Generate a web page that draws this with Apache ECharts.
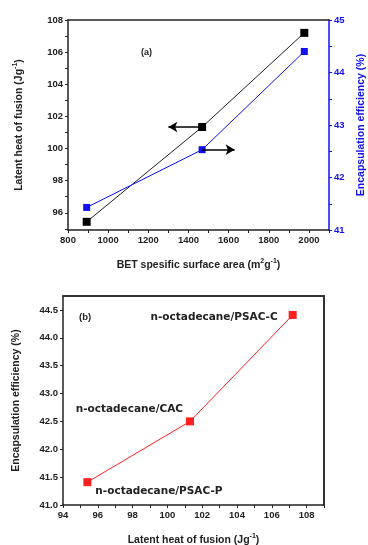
<!DOCTYPE html>
<html>
<head>
<meta charset="utf-8">
<script src="https://cdn.jsdelivr.net/npm/echarts@6/dist/echarts.min.js"></script>
<style>
  html, body {margin: 0; padding: 0; background: #fff;}
  #chart {width: 368px; height: 545px;}
</style>
</head>
<body>
<div id="chart"></div>
<script>
// (a) BET surface area vs latent heat / encapsulation efficiency
const bet = [893, 1468, 1977]
const latentHeat = [95.44, 101.34, 107.2]
const encapA = [41.43, 42.53, 44.40]
const arrowEnds = [1300, 1630]

// (b) latent heat vs encapsulation efficiency
const heatB = [95.4, 101.3, 107.2]
const encapB = [41.41, 42.50, 44.41]
const sampleNames = ['n-octadecane/PSAC-P', 'n-octadecane/CAC', 'n-octadecane/PSAC-C']

const betLabels = [800, 1000, 1200, 1400, 1600, 1800, 2000]
const betTicks = [800, 900, 1000, 1100, 1200, 1300, 1400, 1500, 1600, 1700, 1800, 1900, 2000, 2100]
const heatLabels = [96, 98, 100, 102, 104, 106, 108]
const heatTicks = [95, 96, 97, 98, 99, 100, 101, 102, 103, 104, 105, 106, 107, 108]
const encLabels = [41, 42, 43, 44, 45]
const encTicks = [41, 41.5, 42, 42.5, 43, 43.5, 44, 44.5, 45]
const heatBLabels = [94, 96, 98, 100, 102, 104, 106, 108]
const heatBTicks = [94, 95, 96, 97, 98, 99, 100, 101, 102, 103, 104, 105, 106, 107, 108, 109]
const encBLabels = [41.0, 41.5, 42.0, 42.5, 43.0, 43.5, 44.0, 44.5]

const FONT = '"Liberation Sans", Arial, sans-serif'
const dark = '#222'
const blue = '#1010f0'
const red = '#ff2020'

const tickLabel = (color) => ({
  color: color, fontSize: 9.5, fontWeight: 'bold', fontFamily: FONT, margin: 5
})
const axisName = (color) => ({
  color: color, fontSize: 10.5, fontWeight: 'bold', fontFamily: FONT,
  rich: {sup: {fontSize: 7, fontWeight: 'bold', fontFamily: FONT, color: color, padding: [0, 0, 7, 0]}}
})
const frameAxis = (grid, pos) => ({
  type: 'value', gridIndex: grid, position: pos, min: 0, max: 1,
  axisLine: {show: true, lineStyle: {color: dark, width: 1.5}},
  axisTick: {show: false}, axisLabel: {show: false}, splitLine: {show: false}
})

const chart = echarts.init(document.getElementById('chart'))

const labelPos = [
  {position: 'right', distance: 4, offset: [0, 9]},
  {position: 'left', distance: 3, offset: [0, -12]},
  {position: 'left', distance: 11, offset: [0, 2]}
]

chart.setOption({
  animation: false,
  backgroundColor: '#fff',
  grid: [
    {left: 68, right: 39, top: 20, bottom: 315, outerBoundsMode: 'none', containLabel: false},
    {left: 63, right: 44, top: 296, bottom: 40, outerBoundsMode: 'none', containLabel: false}
  ],
  graphic: [
    {type: 'text', left: 141, top: 48, style: {text: '(a)', font: 'bold 9px ' + FONT, fill: dark}},
    {type: 'text', left: 79, top: 312, style: {text: '(b)', font: 'bold 9.5px ' + FONT, fill: dark}}
  ],
  xAxis: [
    {
      type: 'value', gridIndex: 0, min: 800, max: 2100,
      name: 'BET spesific surface area (m{sup|2}g{sup|-1})',
      nameLocation: 'middle', nameGap: 28, nameTextStyle: axisName(dark),
      axisLine: {lineStyle: {color: dark, width: 1.5}},
      axisTick: {customValues: betTicks, length: 3, lineStyle: {color: dark}},
      axisLabel: Object.assign({customValues: betLabels, formatter: v => String(v)}, tickLabel(dark)),
      splitLine: {show: false}
    },
    frameAxis(0, 'top'),
    {
      type: 'value', gridIndex: 1, min: 94, max: 109,
      name: 'Latent heat of fusion (Jg{sup|-1})',
      nameLocation: 'middle', nameGap: 28, nameTextStyle: axisName(dark),
      axisLine: {lineStyle: {color: dark, width: 1.5}},
      axisTick: {customValues: heatBTicks, length: 3, lineStyle: {color: dark}},
      axisLabel: Object.assign({customValues: heatBLabels}, tickLabel(dark)),
      splitLine: {show: false}
    },
    Object.assign(frameAxis(1, 'top'), {axisLine: {show: true, lineStyle: {color: '#333', width: 2}}})
  ],
  yAxis: [
    {
      type: 'value', gridIndex: 0, min: 94.93, max: 108, position: 'left',
      name: 'Latent heat of fusion (Jg{sup|-1})',
      nameLocation: 'middle', nameGap: 42, nameRotate: 90, nameTextStyle: axisName(dark),
      axisLine: {show: true, lineStyle: {color: dark, width: 1.5}},
      axisTick: {show: true, customValues: heatTicks, length: 3, lineStyle: {color: dark}},
      axisLabel: Object.assign({customValues: heatLabels}, tickLabel(dark)),
      splitLine: {show: false}
    },
    {
      type: 'value', gridIndex: 0, min: 41, max: 45, position: 'right',
      name: 'Encapsulation efficiency (%)',
      nameLocation: 'middle', nameGap: 27, nameRotate: 90, nameTextStyle: axisName(blue),
      axisLine: {show: true, lineStyle: {color: blue, width: 1.5}},
      axisTick: {show: true, customValues: encTicks, length: 3, lineStyle: {color: blue}},
      axisLabel: Object.assign({customValues: encLabels}, tickLabel(blue)),
      splitLine: {show: false}
    },
    {
      type: 'value', gridIndex: 1, min: 41, max: 44.75, position: 'left',
      name: 'Encapsulation efficiency (%)',
      nameLocation: 'middle', nameGap: 41, nameRotate: 90, nameTextStyle: axisName(dark),
      axisLine: {show: true, lineStyle: {color: dark, width: 1.5}},
      axisTick: {show: true, customValues: encTicks.slice(0, 8), length: 3, lineStyle: {color: dark}},
      axisLabel: Object.assign({customValues: encBLabels, formatter: v => v.toFixed(1)}, tickLabel(dark)),
      splitLine: {show: false}
    },
    Object.assign(frameAxis(1, 'right'), {axisLine: {show: true, lineStyle: {color: '#333', width: 2}}})
  ],
  series: [
    {
      type: 'line', xAxisIndex: 0, yAxisIndex: 0,
      data: bet.map((x, i) => [x, latentHeat[i]]),
      symbol: 'rect', symbolSize: 8,
      itemStyle: {color: '#000'},
      lineStyle: {color: dark, width: 1},
      markLine: {
        silent: true, symbol: ['none', 'arrow'], symbolSize: [8, 9],
        label: {show: false},
        lineStyle: {color: '#000', width: 1.5, type: 'solid'},
        data: [[{coord: [bet[1], latentHeat[1]]}, {coord: [arrowEnds[0], latentHeat[1]]}]]
      }
    },
    {
      type: 'line', xAxisIndex: 0, yAxisIndex: 1,
      data: bet.map((x, i) => [x, encapA[i]]),
      symbol: 'rect', symbolSize: 7,
      itemStyle: {color: blue},
      lineStyle: {color: blue, width: 1},
      markLine: {
        silent: true, symbol: ['none', 'arrow'], symbolSize: [8, 9],
        label: {show: false},
        lineStyle: {color: '#000', width: 1.5, type: 'solid'},
        data: [[{coord: [bet[1], encapA[1]]}, {coord: [arrowEnds[1], encapA[1]]}]]
      }
    },
    {
      type: 'line', xAxisIndex: 2, yAxisIndex: 2,
      data: heatB.map((x, i) => ({
        value: [x, encapB[i]],
        label: Object.assign({show: true, formatter: sampleNames[i]}, labelPos[i])
      })),
      symbol: 'rect', symbolSize: 8,
      itemStyle: {color: red},
      lineStyle: {color: red, width: 1},
      label: {color: dark, fontSize: 10.5, fontWeight: 'bold', fontFamily: '"DejaVu Sans", sans-serif'}
    }
  ]
})
</script>
</body>
</html>
